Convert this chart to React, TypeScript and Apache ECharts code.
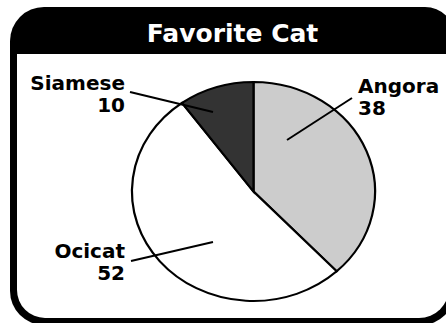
import React, { useEffect, useRef } from "react";
import * as echarts from "echarts";

const TITLE = "Favorite Cat";
const CATEGORIES = ["Angora", "Ocicat", "Siamese"];
const VALUES = [38, 52, 10];
const COLORS = ["#cccccc", "#ffffff", "#333333"];

// layout of labels / leader lines (styling, not data)
const LABEL_LAYOUT = [
  { x: 358, y: 97, align: "left", line: [352, 98, 287, 140] },
  { x: 125, y: 262, align: "right", line: [131, 261, 213, 242] },
  { x: 125, y: 93.5, align: "right", line: [130, 92, 213, 112] },
];

const PIE = { cx: 253.5, cy: 191.5, rx: 121.5, ry: 109.5 };
const FONT = "DejaVu Sans";

export default function App() {
  const ref = useRef<HTMLDivElement>(null);

  useEffect(() => {
    document.body.style.margin = "0";
    const chart = echarts.init(ref.current!, null, { renderer: "svg" });
    const total = VALUES.reduce((a, b) => a + b, 0);

    const renderItem = (params: any, api: any) => {
      const i = params.dataIndex;
      let before = 0;
      for (let j = 0; j < i; j++) before += VALUES[j];
      const start = -Math.PI / 2 + (before / total) * Math.PI * 2;
      const end = start + (api.value(1) / total) * Math.PI * 2;
      const lay = LABEL_LAYOUT[i];
      return {
        type: "group",
        children: [
          {
            type: "sector",
            x: PIE.cx,
            y: PIE.cy,
            scaleX: PIE.rx / PIE.ry,
            scaleY: 1,
            z2: 0,
            shape: { cx: 0, cy: 0, r0: 0, r: PIE.ry, startAngle: start, endAngle: end, clockwise: true },
            style: { fill: COLORS[i], stroke: "#000", lineWidth: 2, strokeNoScale: true },
          },
          {
            type: "line",
            z2: 10,
            shape: { x1: lay.line[0], y1: lay.line[1], x2: lay.line[2], y2: lay.line[3] },
            style: { stroke: "#000", lineWidth: 2 },
          },
          {
            type: "text",
            z2: 11,
            x: lay.x,
            y: lay.y,
            style: {
              text: CATEGORIES[i] + "\n" + VALUES[i],
              fill: "#000",
              font: `bold 20px '${FONT}'`,
              lineHeight: 22,
              align: lay.align,
              verticalAlign: "middle",
            },
          },
        ],
      };
    };

    chart.setOption({
      animation: false,
      graphic: [
        {
          type: "rect",
          z: 0,
          shape: { x: 10, y: 7, width: 445, height: 318, r: [34, 30, 34, 34] },
          style: { fill: "#000" },
        },
        {
          type: "rect",
          z: 1,
          shape: { x: 17, y: 54, width: 432, height: 264, r: [0, 0, 30, 28] },
          style: { fill: "#fff" },
        },
        {
          type: "text",
          z: 2,
          x: 232.5,
          y: 33.4,
          style: {
            text: TITLE,
            fill: "#fff",
            font: `bold 25px '${FONT}'`,
            align: "center",
            verticalAlign: "middle",
          },
        },
      ],
      series: [
        {
          type: "custom",
          coordinateSystem: "none",
          z: 5,
          renderItem,
          data: CATEGORIES.map((name, i) => ({ name, value: [i, VALUES[i]] })),
        },
      ],
    });
    return () => chart.dispose();
  }, []);

  return (
    <div
      ref={ref}
      style={{ position: "absolute", left: 0, top: 0, width: 446, height: 323 }}
    />
  );
}
